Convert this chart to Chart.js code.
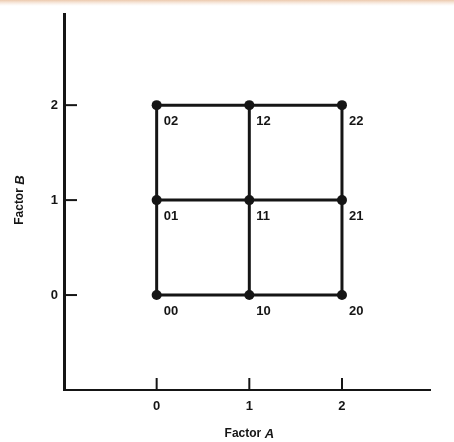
<!DOCTYPE html>
<html>
<head>
<meta charset="utf-8">
<script src="https://cdn.jsdelivr.net/npm/chart.js@4/dist/chart.umd.min.js"></script>
<style>
html,body{margin:0;padding:0;background:#fff;}
#wrap{width:454px;height:442px;}
</style>
</head>
<body>
<div id="wrap"><canvas id="c" width="454" height="442"></canvas></div>
<script>
// Data
const factorALevels = [0, 1, 2];
const factorBLevels = [0, 1, 2];
const xTickValues = [0, 1, 2];
const yTickValues = [0, 1, 2];
const xAxisTitle = ['Factor ', 'A'];
const yAxisTitle = ['Factor ', 'B'];

const ink = '#151515';
const fontFam = '"Liberation Sans", Arial, sans-serif';

// build datasets: rows (constant B), columns (constant A), and points
const datasets = [];
factorBLevels.forEach(b => {
  datasets.push({
    type: 'scatter', showLine: true, data: factorALevels.map(a => ({x: a, y: b})),
    borderColor: ink, borderWidth: 3, pointRadius: 0, pointHoverRadius: 0
  });
});
factorALevels.forEach(a => {
  datasets.push({
    type: 'scatter', showLine: true, data: factorBLevels.map(b => ({x: a, y: b})),
    borderColor: ink, borderWidth: 3, pointRadius: 0, pointHoverRadius: 0
  });
});
const pts = [];
factorALevels.forEach(a => factorBLevels.forEach(b => pts.push({x: a, y: b, label: '' + a + b})));
datasets.push({
  type: 'scatter', data: pts, showLine: false,
  pointRadius: 5, pointBackgroundColor: ink, pointBorderColor: ink, pointBorderWidth: 0
});

const decor = {
  id: 'decor',
  beforeDraw(chart) {
    const ctx = chart.ctx;
    ctx.save();
    ctx.fillStyle = '#fff';
    ctx.fillRect(0, 0, chart.width, chart.height);
    const g = ctx.createLinearGradient(0, 0, 0, 6);
    g.addColorStop(0, '#ecc9ad');
    g.addColorStop(1, 'rgba(245,225,210,0)');
    ctx.fillStyle = g;
    ctx.fillRect(0, 0, chart.width, 6);
    ctx.restore();
  },
  afterDraw(chart) {
    const ctx = chart.ctx;
    const xs = chart.scales.x, ys = chart.scales.y;
    const ca = chart.chartArea;
    ctx.save();
    ctx.strokeStyle = ink;
    ctx.lineWidth = 2;
    // y ticks inward
    yTickValues.forEach(v => {
      const py = ys.getPixelForValue(v);
      ctx.beginPath(); ctx.moveTo(ca.left, py); ctx.lineTo(ca.left + 13, py); ctx.stroke();
    });
    // x ticks upward
    xTickValues.forEach(v => {
      const px = xs.getPixelForValue(v);
      ctx.beginPath(); ctx.moveTo(px, ca.bottom); ctx.lineTo(px, ca.bottom - 12); ctx.stroke();
    });
    // point labels
    const meta = chart.getDatasetMeta(chart.data.datasets.length - 1);
    ctx.fillStyle = ink;
    ctx.font = 'bold 13px ' + fontFam;
    ctx.textAlign = 'left';
    ctx.textBaseline = 'middle';
    meta.data.forEach((el, i) => {
      ctx.fillText(pts[i].label, el.x + 7, el.y + 16);
    });
    // axis titles with italic letter
    function mixed(parts, cx, cy) {
      const f1 = 'bold 12px ' + fontFam, f2 = 'italic bold 13px ' + fontFam;
      ctx.font = f1; const w1 = ctx.measureText(parts[0]).width;
      ctx.font = f2; const w2 = ctx.measureText(parts[1]).width;
      let x0 = cx - (w1 + w2) / 2;
      ctx.textAlign = 'left'; ctx.textBaseline = 'middle';
      ctx.font = f1; ctx.fillText(parts[0], x0, cy);
      ctx.font = f2; ctx.fillText(parts[1], x0 + w1, cy);
    }
    mixed(xAxisTitle, (xs.getPixelForValue(1)), 434);
    ctx.save();
    ctx.translate(20, ys.getPixelForValue(1));
    ctx.rotate(-Math.PI / 2);
    mixed(yAxisTitle, 0, 0);
    ctx.restore();
    ctx.restore();
  }
};

new Chart(document.getElementById('c'), {
  type: 'scatter',
  data: { datasets },
  options: {
    responsive: false,
    animation: false,
    events: [],
    layout: { padding: { left: 0, top: 14, right: 24, bottom: 0 } },
    plugins: { legend: { display: false }, tooltip: { enabled: false } },
    scales: {
      x: {
        type: 'linear', min: -1, max: 2.95,
        afterBuildTicks: s => { s.ticks = xTickValues.map(v => ({ value: v })); },
        afterFit: s => { s.height = 52; },
        grid: { display: true, drawOnChartArea: false, drawTicks: false },
        border: { display: true, color: ink, width: 2 },
        ticks: { color: ink, padding: 9, font: { family: fontFam, size: 13, weight: 'bold' }, callback: v => String(v) }
      },
      y: {
        type: 'linear', min: -1, max: 2.96,
        afterBuildTicks: s => { s.ticks = yTickValues.map(v => ({ value: v })); },
        afterFit: s => { s.width = 64; },
        grid: { display: true, drawOnChartArea: false, drawTicks: false },
        border: { display: true, color: ink, width: 3 },
        ticks: { color: ink, padding: 6, font: { family: fontFam, size: 13, weight: 'bold' }, callback: v => String(v) }
      }
    }
  },
  plugins: [decor]
});
</script>
</body>
</html>
